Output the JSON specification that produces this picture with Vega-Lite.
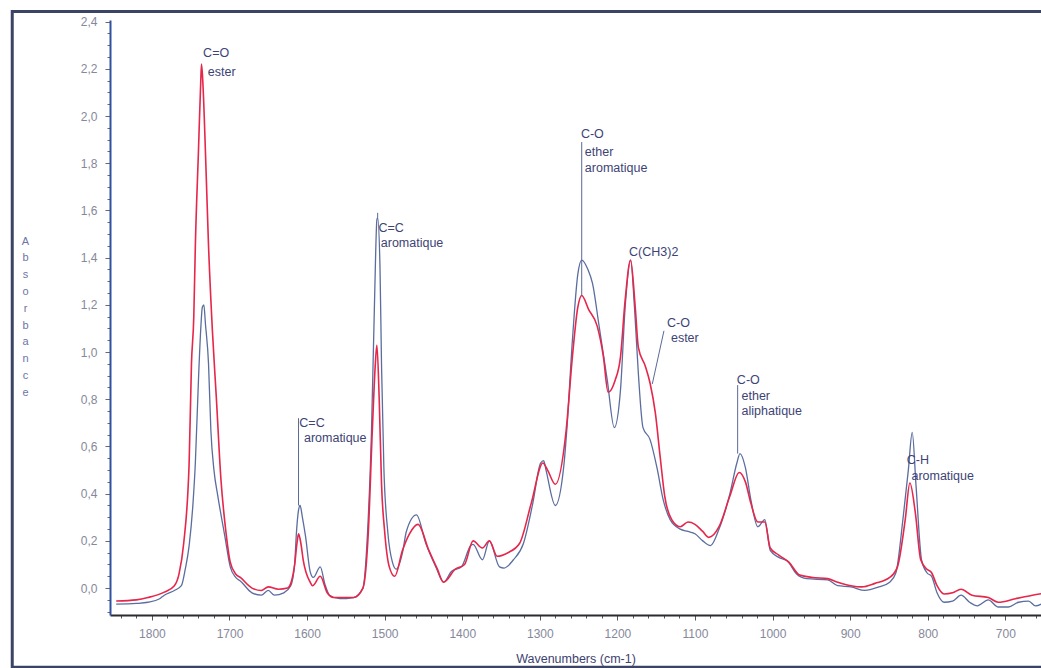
{
  "$schema": "https://vega.github.io/schema/vega-lite/v6.json",
  "width": 931,
  "height": 595,
  "autosize": "none",
  "padding": {"left": 110, "top": 20, "right": 0, "bottom": 53},
  "background": "white",
  "config": {"view": {"stroke": null}, "font": "Liberation Sans"},
  "datasets": {
    "blue": [
      {"v":1846,"a":-0.068},{"v":1820,"a":-0.065},{"v":1805,"a":-0.06},{"v":1790,"a":-0.045},{"v":1784,"a":-0.03},{"v":1771,"a":-0.01},{"v":1762,"a":0.01},{"v":1757,"a":0.08},{"v":1752,"a":0.18},{"v":1747,"a":0.36},{"v":1744,"a":0.53},{"v":1740,"a":0.88},{"v":1737,"a":1.10},{"v":1735,"a":1.19},{"v":1733,"a":1.20},{"v":1731,"a":1.12},{"v":1727,"a":0.95},{"v":1724,"a":0.67},{"v":1720,"a":0.50},{"v":1715,"a":0.39},{"v":1706,"a":0.22},{"v":1699,"a":0.09},{"v":1692,"a":0.045},{"v":1686,"a":0.03},{"v":1671,"a":-0.02},{"v":1659,"a":-0.03},{"v":1650,"a":-0.01},{"v":1642,"a":-0.03},{"v":1630,"a":-0.02},{"v":1621,"a":0.01},{"v":1616,"a":0.10},{"v":1614,"a":0.22},{"v":1611,"a":0.33},{"v":1609,"a":0.35},{"v":1606,"a":0.30},{"v":1602,"a":0.22},{"v":1596,"a":0.07},{"v":1592,"a":0.045},{"v":1583,"a":0.09},{"v":1577,"a":0.017},{"v":1571,"a":-0.03},{"v":1558,"a":-0.045},{"v":1540,"a":-0.04},{"v":1528,"a":0.0},{"v":1522,"a":0.24},{"v":1517,"a":0.66},{"v":1513,"a":1.22},{"v":1510,"a":1.56},{"v":1509,"a":1.57},{"v":1506,"a":1.36},{"v":1504,"a":0.94},{"v":1501,"a":0.51},{"v":1496,"a":0.24},{"v":1490,"a":0.11},{"v":1485,"a":0.08},{"v":1477,"a":0.15},{"v":1472,"a":0.24},{"v":1459,"a":0.31},{"v":1447,"a":0.19},{"v":1434,"a":0.09},{"v":1424,"a":0.025},{"v":1414,"a":0.07},{"v":1401,"a":0.09},{"v":1389,"a":0.18},{"v":1386,"a":0.185},{"v":1374,"a":0.12},{"v":1365,"a":0.20},{"v":1352,"a":0.09},{"v":1346,"a":0.085},{"v":1334,"a":0.12},{"v":1321,"a":0.19},{"v":1309,"a":0.36},{"v":1299,"a":0.53},{"v":1295,"a":0.54},{"v":1292,"a":0.50},{"v":1280,"a":0.35},{"v":1269,"a":0.52},{"v":1265,"a":0.68},{"v":1258,"a":1.05},{"v":1251,"a":1.33},{"v":1246,"a":1.39},{"v":1238,"a":1.35},{"v":1232,"a":1.29},{"v":1224,"a":1.12},{"v":1213,"a":0.88},{"v":1204,"a":0.68},{"v":1196,"a":0.84},{"v":1190,"a":1.19},{"v":1183,"a":1.39},{"v":1178,"a":1.19},{"v":1173,"a":0.91},{"v":1167,"a":0.68},{"v":1158,"a":0.63},{"v":1149,"a":0.51},{"v":1141,"a":0.375},{"v":1132,"a":0.29},{"v":1119,"a":0.25},{"v":1109,"a":0.24},{"v":1100,"a":0.23},{"v":1090,"a":0.20},{"v":1080,"a":0.18},{"v":1069,"a":0.25},{"v":1055,"a":0.40},{"v":1046,"a":0.53},{"v":1042,"a":0.57},{"v":1035,"a":0.51},{"v":1028,"a":0.375},{"v":1019,"a":0.26},{"v":1010,"a":0.29},{"v":1003,"a":0.16},{"v":992,"a":0.13},{"v":981,"a":0.115},{"v":969,"a":0.06},{"v":956,"a":0.04},{"v":929,"a":0.035},{"v":916,"a":0.01},{"v":899,"a":0.005},{"v":881,"a":-0.01},{"v":863,"a":0.005},{"v":849,"a":0.025},{"v":841,"a":0.065},{"v":832,"a":0.29},{"v":825,"a":0.50},{"v":820,"a":0.66},{"v":815,"a":0.43},{"v":808,"a":0.12},{"v":801,"a":0.065},{"v":795,"a":0.05},{"v":788,"a":-0.02},{"v":779,"a":-0.06},{"v":768,"a":-0.055},{"v":757,"a":-0.03},{"v":746,"a":-0.06},{"v":736,"a":-0.075},{"v":722,"a":-0.05},{"v":709,"a":-0.08},{"v":696,"a":-0.08},{"v":683,"a":-0.06},{"v":670,"a":-0.055},{"v":661,"a":-0.075},{"v":647,"a":-0.055}
    ],
    "red": [
      {"v":1846,"a":-0.055},{"v":1820,"a":-0.05},{"v":1805,"a":-0.04},{"v":1784,"a":-0.017},{"v":1771,"a":0.01},{"v":1765,"a":0.06},{"v":1759,"a":0.19},{"v":1752,"a":0.53},{"v":1749,"a":0.95},{"v":1746,"a":1.15},{"v":1744,"a":1.45},{"v":1740,"a":1.85},{"v":1737,"a":2.15},{"v":1736,"a":2.22},{"v":1734,"a":2.12},{"v":1731,"a":1.85},{"v":1727,"a":1.45},{"v":1722,"a":1.09},{"v":1717,"a":0.81},{"v":1711,"a":0.46},{"v":1705,"a":0.25},{"v":1699,"a":0.11},{"v":1692,"a":0.06},{"v":1686,"a":0.045},{"v":1671,"a":0.0},{"v":1659,"a":-0.01},{"v":1650,"a":0.005},{"v":1637,"a":-0.005},{"v":1625,"a":0.0},{"v":1621,"a":0.02},{"v":1616,"a":0.10},{"v":1613,"a":0.19},{"v":1611,"a":0.23},{"v":1608,"a":0.19},{"v":1605,"a":0.12},{"v":1596,"a":0.025},{"v":1593,"a":0.01},{"v":1583,"a":0.05},{"v":1574,"a":-0.02},{"v":1566,"a":-0.04},{"v":1558,"a":-0.04},{"v":1540,"a":-0.04},{"v":1528,"a":0.0},{"v":1521,"a":0.24},{"v":1516,"a":0.66},{"v":1512,"a":0.95},{"v":1510,"a":1.03},{"v":1507,"a":0.8},{"v":1504,"a":0.44},{"v":1500,"a":0.24},{"v":1494,"a":0.09},{"v":1487,"a":0.05},{"v":1477,"a":0.16},{"v":1468,"a":0.23},{"v":1457,"a":0.27},{"v":1443,"a":0.16},{"v":1432,"a":0.08},{"v":1424,"a":0.025},{"v":1409,"a":0.08},{"v":1397,"a":0.10},{"v":1386,"a":0.20},{"v":1374,"a":0.17},{"v":1365,"a":0.20},{"v":1355,"a":0.135},{"v":1341,"a":0.15},{"v":1326,"a":0.19},{"v":1311,"a":0.36},{"v":1296,"a":0.53},{"v":1290,"a":0.50},{"v":1280,"a":0.44},{"v":1266,"a":0.67},{"v":1258,"a":0.98},{"v":1251,"a":1.19},{"v":1246,"a":1.24},{"v":1237,"a":1.18},{"v":1226,"a":1.11},{"v":1218,"a":0.98},{"v":1212,"a":0.83},{"v":1203,"a":0.88},{"v":1196,"a":0.98},{"v":1190,"a":1.22},{"v":1183,"a":1.39},{"v":1177,"a":1.19},{"v":1173,"a":1.02},{"v":1164,"a":0.94},{"v":1158,"a":0.87},{"v":1151,"a":0.74},{"v":1145,"a":0.56},{"v":1139,"a":0.39},{"v":1130,"a":0.29},{"v":1119,"a":0.26},{"v":1109,"a":0.28},{"v":1100,"a":0.27},{"v":1090,"a":0.24},{"v":1082,"a":0.215},{"v":1069,"a":0.26},{"v":1055,"a":0.39},{"v":1043,"a":0.49},{"v":1035,"a":0.45},{"v":1028,"a":0.36},{"v":1019,"a":0.28},{"v":1010,"a":0.28},{"v":1003,"a":0.17},{"v":992,"a":0.14},{"v":979,"a":0.11},{"v":965,"a":0.055},{"v":948,"a":0.045},{"v":929,"a":0.04},{"v":916,"a":0.025},{"v":899,"a":0.01},{"v":885,"a":0.005},{"v":868,"a":0.02},{"v":849,"a":0.045},{"v":839,"a":0.09},{"v":829,"a":0.29},{"v":823,"a":0.445},{"v":816,"a":0.32},{"v":809,"a":0.12},{"v":801,"a":0.08},{"v":795,"a":0.065},{"v":788,"a":0.01},{"v":779,"a":-0.025},{"v":768,"a":-0.02},{"v":757,"a":-0.005},{"v":743,"a":-0.03},{"v":722,"a":-0.04},{"v":709,"a":-0.06},{"v":687,"a":-0.045},{"v":665,"a":-0.03},{"v":647,"a":-0.02}
    ],
    "pointers": [
      {"v":1611,"a":0.35,"v2":1611,"a2":0.72},
      {"v":1509,"a":1.57,"v2":1509,"a2":1.59},
      {"v":1246,"a":1.24,"v2":1246,"a2":1.89},
      {"v":1140,"a":1.09,"v2":1155,"a2":0.865},
      {"v":1045,"a":0.57,"v2":1045,"a2":0.86}
    ],
    "labels": [
      {"t":"C=O","v":1734,"a":2.267},{"t":"ester","v":1728,"a":2.186},
      {"t":"C=C","v":1610,"a":0.699},{"t":"aromatique","v":1604,"a":0.636},
      {"t":"C=C","v":1508,"a":1.525},{"t":"aromatique","v":1505,"a":1.462},
      {"t":"C-O","v":1247,"a":1.924},{"t":"ether","v":1242,"a":1.847},{"t":"aromatique","v":1242,"a":1.78},
      {"t":"C(CH3)2","v":1185,"a":1.424},
      {"t":"C-O","v":1136,"a":1.123},{"t":"ester","v":1131,"a":1.059},
      {"t":"C-O","v":1046,"a":0.881},{"t":"ether","v":1040,"a":0.814},{"t":"aliphatique","v":1040,"a":0.75},
      {"t":"C-H","v":827,"a":0.542},{"t":"aromatique","v":821,"a":0.475}
    ],
    "frame": [{"x1":1980,"x2":600,"y1":2.443,"y2":-0.335}]
  },
  "encoding": {
    "x": {
      "field": "v", "type": "quantitative",
      "scale": {"domain": [654, 1854], "reverse": true, "nice": false, "zero": false},
      "axis": {
        "title": "Wavenumbers (cm-1)",
        "zindex": 1,
        "values": [660,680,700,720,740,760,780,800,820,840,860,880,900,920,940,960,980,1000,1020,1040,1060,1080,1100,1120,1140,1160,1180,1200,1220,1240,1260,1280,1300,1320,1340,1360,1380,1400,1420,1440,1460,1480,1500,1520,1540,1560,1580,1600,1620,1640,1660,1680,1700,1720,1740,1760,1780,1800,1820,1840],
        "format": "d",
        "labelExpr": "datum.value % 100 === 0 ? datum.label : ''",
        "labelOverlap": false, "labelFlush": false, "labelBound": false,
        "tickSize": {"condition": {"test": "datum.value % 100 === 0", "value": 5}, "value": 3},
        "tickColor": "#555555", "tickWidth": 1,
        "domainColor": "#2a2a30", "domainWidth": 1.8,
        "labelColor": "#85889a", "labelFontSize": 12, "labelFont": "Liberation Sans", "labelPadding": 8,
        "titleFont": "Liberation Sans", "titleFontSize": 12.5, "titleFontWeight": "normal", "titleColor": "#3d4270", "titlePadding": 13,
        "grid": false
      }
    },
    "y": {
      "field": "a", "type": "quantitative",
      "scale": {"domain": [-0.114, 2.407], "nice": false, "zero": false},
      "axis": {
        "zindex": 1,
        "title": ["A","b","s","o","r","b","a","n","c","e"],
        "titleAngle": 0, "titleX": -85, "titleY": 215, "titleAlign": "center", "titleBaseline": "top",
        "titleLineHeight": 16.8, "titleFontSize": 11, "titleColor": "#6e74a6", "titleFontWeight": "normal", "titleFont": "Liberation Sans",
        "values": [-0.1,-0.05,0,0.05,0.1,0.15,0.2,0.25,0.3,0.35,0.4,0.45,0.5,0.55,0.6,0.65,0.7,0.75,0.8,0.85,0.9,0.95,1,1.05,1.1,1.15,1.2,1.25,1.3,1.35,1.4,1.45,1.5,1.55,1.6,1.65,1.7,1.75,1.8,1.85,1.9,1.95,2,2.05,2.1,2.15,2.2,2.25,2.3,2.35,2.4],
        "labelExpr": "abs(datum.value*5 - round(datum.value*5)) < 0.001 ? replace(format(datum.value, '.1f'), '.', ',') : ''",
        "labelOverlap": false, "labelFlush": false, "labelBound": false,
        "tickSize": {"condition": {"test": "abs(datum.value*5 - round(datum.value*5)) < 0.001", "value": 5}, "value": 3},
        "tickColor": "#666677", "tickWidth": 1,
        "domainColor": "#3050a0", "domainWidth": 2,
        "labelColor": "#85889a", "labelFontSize": 12, "labelFont": "Liberation Sans", "labelPadding": 8,
        "grid": false
      }
    }
  },
  "layer": [
    {
      "data": {"name": "frame"},
      "mark": {"type": "rect", "filled": false, "color": "#3c4466", "strokeWidth": 3, "clip": false},
      "encoding": {
        "x": {"field": "x1", "type": "quantitative"},
        "x2": {"field": "x2"},
        "y": {"field": "y1", "type": "quantitative"},
        "y2": {"field": "y2"}
      }
    },
    {
      "data": {"name": "blue"},
      "mark": {"type": "line", "clip": true, "color": "#5a6d9e", "strokeWidth": 1.3, "interpolate": "monotone"}
    },
    {
      "data": {"name": "red"},
      "mark": {"type": "line", "clip": true, "color": "#e6264a", "strokeWidth": 1.6, "interpolate": "monotone"}
    },
    {
      "data": {"name": "pointers"},
      "mark": {"type": "rule", "color": "#5a6a98", "strokeWidth": 1},
      "encoding": {"x2": {"field": "v2"}, "y2": {"field": "a2"}}
    },
    {
      "data": {"name": "labels"},
      "mark": {"type": "text", "align": "left", "baseline": "middle", "fontSize": 12.5, "font": "Liberation Sans", "color": "#3d4475"},
      "encoding": {"text": {"field": "t"}}
    }
  ]
}
